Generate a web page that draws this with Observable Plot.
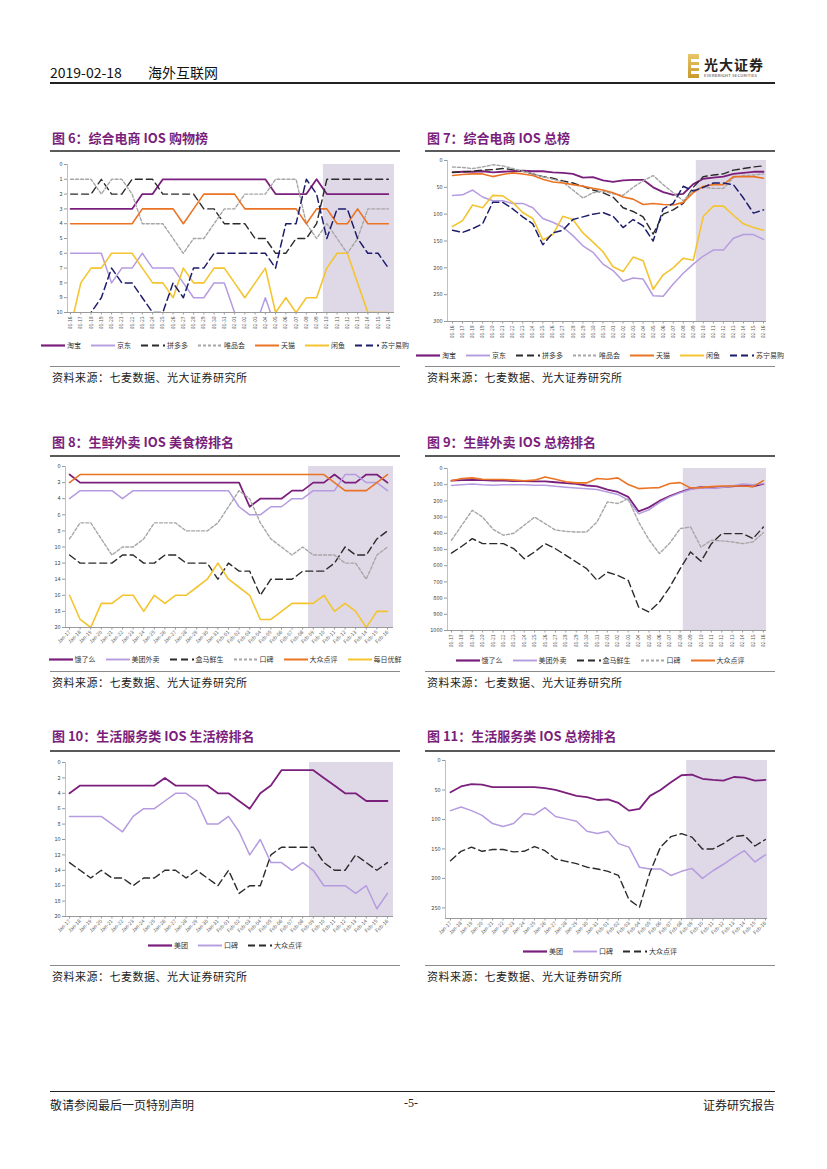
<!DOCTYPE html>
<html><head><meta charset="utf-8">
<!-- NOTE: legend series names and x-axis date labels are best guesses; they are illegible in the reference image. -->
<script src="https://cdn.jsdelivr.net/npm/d3@7"></script>
<script src="https://cdn.jsdelivr.net/npm/@observablehq/plot@0.6"></script>
<style>
body{margin:0;background:#fff;font-family:"Noto Sans CJK SC","Noto Sans",sans-serif;}
#page{position:relative;width:827px;height:1169px;overflow:hidden;background:#fff;}
.abs{position:absolute;white-space:nowrap;}
.title{color:#7A1E7C;font-weight:700;font-size:13px;line-height:16px;}
.src{font-size:11px;color:#222;line-height:14px;letter-spacing:0.5px;}
.rule{position:absolute;}
.legend{position:absolute;display:flex;justify-content:center;align-items:center;gap:10px;font-size:7px;color:#333;white-space:nowrap;}
.legend span{display:flex;align-items:center;gap:2px;white-space:nowrap;flex-shrink:0;}
svg{overflow:visible;}
</style></head>
<body><div id="page"></div>
<script>
// ---------- DATA ----------
// Series names and date labels below are estimates (unreadable in the source picture).
const labelsA = ["01-16","01-17","01-18","01-19","01-20","01-21","01-22","01-23","01-24","01-25","01-26","01-27","01-28","01-29","01-30","01-31","02-01","02-02","02-03","02-04","02-05","02-06","02-07","02-08","02-09","02-10","02-11","02-12","02-13","02-14","02-15","02-16"];
const labelsB = ["Jan-17","Jan-18","Jan-19","Jan-20","Jan-21","Jan-22","Jan-23","Jan-24","Jan-25","Jan-26","Jan-27","Jan-28","Jan-29","Jan-30","Jan-31","Feb-01","Feb-02","Feb-03","Feb-04","Feb-05","Feb-06","Feb-07","Feb-08","Feb-09","Feb-10","Feb-11","Feb-12","Feb-13","Feb-14","Feb-15","Feb-16"];
const labelsC = ["01-17","01-18","01-19","01-20","01-21","01-22","01-23","01-24","01-25","01-26","01-27","01-28","01-29","01-30","01-31","02-01","02-02","02-03","02-04","02-05","02-06","02-07","02-08","02-09","02-10","02-11","02-12","02-13","02-14","02-15","02-16"];

// Fig 6 shopping rank
const names6 = ["淘宝","京东","拼多多","唯品会","天猫","闲鱼","苏宁易购"];
const f6_taobao = [3,3,3,3,3,3,3,2,2,1,1,1,1,1,1,1,1,1,1,1,2,2,2,2,1,2,2,2,2,2,2,2];
const f6_jd     = [6,6,6,6,8,7,7,6,7,7,7,8,9,9,8,8,10,11,11,9,11,11,11,11,11,11,11,11,11,11,11,11];
const f6_pdd    = [2,2,2,1,2,2,1,1,1,2,2,2,2,3,3,4,4,4,5,5,6,6,5,5,4,1,1,1,1,1,1,1];
const f6_vip    = [1,1,1,2,1,1,2,4,4,4,5,6,5,5,4,3,3,2,2,2,1,1,1,4,5,4,5,6,5,3,3,3];
const f6_tmall  = [4,4,4,4,4,4,4,3,3,3,3,4,3,2,2,2,2,3,3,3,3,3,3,4,3,3,4,4,3,4,4,4];
const f6_xianyu = [11,8,7,7,6,6,6,7,8,8,9,7,8,8,7,7,8,9,8,7,10,9,10,9,9,7,6,6,8,10,10,10];
const f6_suning = [11,11,10,9,7,8,8,9,10,10,8,9,7,7,6,6,6,6,6,6,7,4,4,1,2,5,3,3,5,6,6,7];
const shade6 = 24.66;

// Fig 7 overall rank
const f7_taobao = [22,21,21,20,22,21,20,19,20,20,22,23,25,32,31,37,40,37,36,36,50,59,64,62,44,34,32,30,25,23,21,21];
const f7_jd     = [65,64,55,68,75,75,80,80,88,108,115,124,140,159,171,193,205,225,219,221,252,253,230,210,193,178,167,167,145,138,138,147];
const f7_pdd    = [22,21,20,18,17,15,17,20,25,30,33,38,42,48,55,60,68,88,95,105,137,100,92,80,50,30,27,25,18,15,12,10];
const f7_vip    = [12,13,15,12,8,10,15,20,25,30,35,40,55,70,60,57,62,65,50,38,28,45,60,75,55,50,52,52,32,28,27,25];
const f7_tmall  = [28,26,25,25,30,26,23,25,28,35,40,42,45,48,52,55,60,68,72,82,80,82,83,78,60,48,45,45,30,30,30,33];
const f7_xianyu = [123,112,83,88,65,66,78,97,108,148,138,104,110,135,152,170,198,207,180,187,240,213,200,182,186,104,85,85,102,118,125,130];
const f7_suning = [130,134,127,118,78,78,90,105,118,157,135,130,110,105,100,97,104,125,110,122,150,90,80,48,57,50,42,42,45,70,98,92];
const shade7 = 24.3;

// Fig 8 food & drink rank
const names8 = ["饿了么","美团外卖","盒马鲜生","口碑","大众点评","每日优鲜"];
const f8_ele   = [1,2,2,2,2,2,2,2,2,2,2,2,2,2,2,2,2,5,4,4,4,3,3,2,2,1,2,2,1,1,2];
const f8_mt    = [4,3,3,3,3,4,3,3,3,3,3,3,3,3,3,3,5,6,6,5,5,4,4,3,3,3,1,1,2,2,3];
const f8_hema  = [11,12,12,12,12,11,11,12,12,11,11,12,12,12,14,12,13,13,16,14,14,14,13,13,13,12,10,11,11,9,8];
const f8_kb    = [9,7,7,9,11,10,10,9,7,7,7,8,8,8,7,5,3,4,7,9,10,11,10,11,11,11,12,12,14,11,10];
const f8_dp    = [2,1,1,1,1,1,1,1,1,1,1,1,1,1,1,1,1,1,1,1,1,1,1,1,1,2,3,3,3,2,1];
const f8_mryx  = [16,19,20,17,17,16,16,18,16,17,16,16,15,14,12,14,15,16,19,19,18,17,17,17,16,18,17,18,20,18,18];
const shade8 = 22.55;

// Fig 9 overall rank
const names9 = ["饿了么","美团外卖","盒马鲜生","口碑","大众点评"];
const f9_ele  = [75,72,70,72,75,75,78,78,80,80,85,90,95,105,110,130,145,175,265,240,200,170,145,125,115,120,115,110,105,110,95];
const f9_mt   = [105,100,95,100,103,100,100,100,103,103,110,115,120,125,130,145,160,195,280,255,210,175,150,130,120,122,118,108,95,100,92];
const f9_hema = [522,480,433,464,464,464,495,557,515,464,495,536,577,618,690,640,660,690,855,885,825,732,618,515,573,464,402,402,402,433,361];
const f9_kb   = [443,350,258,300,375,412,400,350,300,340,380,388,392,392,330,206,216,186,330,440,525,460,371,361,485,443,447,453,464,453,396];
const f9_dp   = [76,62,58,66,68,68,72,76,72,52,66,82,89,89,62,66,58,99,124,120,118,93,87,120,118,112,108,108,108,112,75];
const shade9 = 22.3;

// Fig 10 lifestyle rank
const names10 = ["美团","口碑","大众点评"];
const f10_a = [4,3,3,3,3,3,3,3,3,2,3,3,3,3,4,4,5,6,4,3,1,1,1,1,2,3,4,4,5,5,5];
const f10_b = [7,7,7,7,8,9,7,6,6,5,4,4,5,8,8,7,9,12,10,13,13,14,13,14,16,16,16,17,16,19,17];
const f10_c = [13,14,15,14,15,15,16,15,15,14,14,15,14,15,16,14,17,16,16,12,11,11,11,11,13,14,14,12,13,14,13];
const shade10 = 22.64;

// Fig 11 overall rank
const f11_a = [54,44,40,41,45,45,45,45,45,47,50,55,60,62,67,66,72,85,82,60,50,37,25,24,31,33,34,28,29,34,33];
const f11_b = [85,79,85,93,107,112,107,90,92,80,95,99,103,120,124,120,141,147,181,184,184,195,188,183,200,187,176,164,153,172,160];
const f11_c = [170,154,147,154,151,151,155,154,146,153,167,171,175,181,184,188,195,236,249,190,147,129,124,130,150,150,141,129,127,145,134];
const shade11 = 22.5;

// ---------- STYLES ----------
const SHADE = "#DFD9E7";
const ST = {
  dpurple: {stroke:"#7B1F7D", w:1.8, dash:null},
  lpurple: {stroke:"#B59BDF", w:1.5, dash:null},
  black:   {stroke:"#2B2B2B", w:1.4, dash:"7,4"},
  gray:    {stroke:"#A6A6A6", w:1.4, dash:"3,2"},
  orange:  {stroke:"#EB7324", w:1.6, dash:null},
  yellow:  {stroke:"#F4C430", w:1.6, dash:null},
  navy:    {stroke:"#1D1D6B", w:1.5, dash:"7,4"}
};

const page = document.getElementById("page");
function add(html){ const d=document.createElement("div"); d.innerHTML=html; const el=d.firstElementChild; page.appendChild(el); return el; }

function drawChart(cfg){
  const n = cfg.labels.length;
  const marks = [
    Plot.rect([cfg.shade], {x1: d=>d, x2: ()=>cfg.xDom[1], y1: ()=>cfg.yDom[0], y2: ()=>cfg.yDom[1], fill: SHADE}),
    Plot.ruleX([cfg.xDom[0]], {stroke:"#B0B0B0", strokeWidth:0.8}),
    Plot.ruleY([cfg.yDom[1]], {stroke:"#808080", strokeWidth:0.8}),
    Plot.axisY(cfg.yTicks, {anchor:"left", label:null, tickFormat:d=>String(d), tickSize:3, tickPadding:2, fontSize:5.5, stroke:"#999", fill:"#444"}),
    Plot.axisX(d3.range(n), {anchor:"bottom", label:null, tickFormat: i=>cfg.labels[i], tickRotate: cfg.rot, tickSize:2.5, tickPadding:1.5, fontSize:5, stroke:"#999", fill:"#555"})
  ];
  cfg.series.forEach(s=>{
    const rows = s.values.map((v,i)=>({i, v}));
    marks.push(Plot.line(rows, {x:"i", y:"v", stroke:s.st.stroke, strokeWidth:s.st.w, strokeDasharray:s.st.dash, clip:true, curve:"linear"}));
  });
  const svg = Plot.plot({
    width: cfg.width, height: cfg.height,
    marginLeft: cfg.mL, marginRight: cfg.mR, marginTop: cfg.mT, marginBottom: cfg.mB,
    x: {type:"linear", domain: cfg.xDom, axis:null},
    y: {type:"linear", domain: cfg.yDom, reverse:true, axis:null},
    style: {fontFamily:"Noto Sans CJK SC, sans-serif", background:"transparent", overflow:"visible"},
    marks
  });
  svg.style.position="absolute"; svg.style.left=cfg.left+"px"; svg.style.top=cfg.top+"px";
  page.appendChild(svg);
  // legend
  const lg = document.createElement("div");
  lg.className="legend";
  lg.style.left=cfg.legend[0]+"px"; lg.style.top=cfg.legend[1]+"px"; lg.style.width=cfg.legend[2]+"px";
  cfg.series.forEach(s=>{
    const sp=document.createElement("span");
    sp.innerHTML=`<svg width="24" height="5"><line x1="0" y1="2.5" x2="24" y2="2.5" stroke="${s.st.stroke}" stroke-width="${s.st.w+0.4}" ${s.st.dash?`stroke-dasharray="${s.st.dash}"`:""}/></svg>${s.name}`;
    lg.appendChild(sp);
  });
  page.appendChild(lg);
}

// ---------- PAGE FRAME ----------
add(`<div class="abs" style="left:50px;top:62px;font-size:14px;color:#111;">2019-02-18</div>`);
add(`<div class="abs" style="left:148px;top:62px;font-size:14px;color:#111;">海外互联网</div>`);
add(`<div class="abs" style="left:688px;top:54px;width:11px;height:24px;background:linear-gradient(180deg,#E8C66A,#C99A2E);"></div>`);
add(`<div class="abs" style="left:691px;top:59px;width:8px;height:3px;background:#fff;"></div>`);
add(`<div class="abs" style="left:691px;top:65px;width:8px;height:3px;background:#fff;"></div>`);
add(`<div class="abs" style="left:691px;top:71px;width:8px;height:3px;background:#fff;"></div>`);
add(`<div class="abs" style="left:704px;top:54px;font-size:14px;font-weight:700;color:#222;letter-spacing:1px;">光大证券</div>`);
add(`<div class="abs" style="left:704px;top:72px;font-size:4px;color:#333;letter-spacing:0.3px;">EVERBRIGHT SECURITIES</div>`);
add(`<div class="rule" style="left:50px;top:82px;width:725px;height:1.5px;background:#222;"></div>`);

const rows = [
  {tY:130, rY:150, sY:366},
  {tY:434, rY:455, sY:671},
  {tY:728, rY:750, sY:965}
];
const titles = [
  ["图 6：综合电商 IOS 购物榜","图 7：综合电商 IOS 总榜"],
  ["图 8：生鲜外卖 IOS 美食榜排名","图 9：生鲜外卖 IOS 总榜排名"],
  ["图 10：生活服务类 IOS 生活榜排名","图 11：生活服务类 IOS 总榜排名"]
];
rows.forEach((r,k)=>{
  [[52,50],[427,425]].forEach(([tx,rx],j)=>{
    add(`<div class="abs title" style="left:${tx}px;top:${r.tY}px;">${titles[k][j]}</div>`);
    add(`<div class="rule" style="left:${rx}px;top:${r.rY}px;width:350px;height:2px;background:#5A5A5A;"></div>`);
    add(`<div class="rule" style="left:${rx}px;top:${r.sY}px;width:350px;height:1px;background:#8A8A8A;"></div>`);
    add(`<div class="abs src" style="left:${rx+2}px;top:${r.sY+4}px;">资料来源：七麦数据、光大证券研究所</div>`);
  });
});

add(`<div class="rule" style="left:50px;top:1091px;width:725px;height:1px;background:#222;"></div>`);
add(`<div class="abs" style="left:50px;top:1096px;font-size:12px;color:#222;">敬请参阅最后一页特别声明</div>`);
add(`<div class="abs" style="left:404px;top:1096px;font-size:12px;color:#222;font-family:'Liberation Serif',serif;">-5-</div>`);
add(`<div class="abs" style="left:703px;top:1096px;font-size:12px;color:#222;">证券研究报告</div>`);

// ---------- CHARTS ----------
drawChart({left:40, top:152, width:360, height:186, mL:27, mR:6, mT:12, mB:26,
  xDom:[-0.3,31.6], yDom:[0,10], yTicks:d3.range(0,11,1), labels:labelsA, rot:-90, shade:shade6,
  legend:[50,340,350],
  series:[
    {name:names6[0], values:f6_taobao, st:ST.dpurple},
    {name:names6[1], values:f6_jd, st:ST.lpurple},
    {name:names6[2], values:f6_pdd, st:ST.black},
    {name:names6[3], values:f6_vip, st:ST.gray},
    {name:names6[4], values:f6_tmall, st:ST.orange},
    {name:names6[5], values:f6_xianyu, st:ST.yellow},
    {name:names6[6], values:f6_suning, st:ST.navy}
  ]});

drawChart({left:415, top:152, width:360, height:195, mL:32, mR:9, mT:8, mB:26,
  xDom:[-0.5,31.3], yDom:[0,300], yTicks:d3.range(0,301,50), labels:labelsA, rot:-90, shade:shade7,
  legend:[425,350,350],
  series:[
    {name:names6[0], values:f7_taobao, st:ST.dpurple},
    {name:names6[1], values:f7_jd, st:ST.lpurple},
    {name:names6[2], values:f7_pdd, st:ST.black},
    {name:names6[3], values:f7_vip, st:ST.gray},
    {name:names6[4], values:f7_tmall, st:ST.orange},
    {name:names6[5], values:f7_xianyu, st:ST.yellow},
    {name:names6[6], values:f7_suning, st:ST.navy}
  ]});

drawChart({left:40, top:455, width:360, height:197, mL:25, mR:7, mT:11, mB:25,
  xDom:[-0.38,30.57], yDom:[0,20], yTicks:d3.range(0,21,2), labels:labelsB, rot:-45, shade:shade8,
  legend:[50,654,350],
  series:[
    {name:names8[0], values:f8_ele, st:ST.dpurple},
    {name:names8[1], values:f8_mt, st:ST.lpurple},
    {name:names8[2], values:f8_hema, st:ST.black},
    {name:names8[3], values:f8_kb, st:ST.gray},
    {name:names8[4], values:f8_dp, st:ST.orange},
    {name:names8[5], values:f8_mryx, st:ST.yellow}
  ]});

drawChart({left:415, top:455, width:360, height:200, mL:32, mR:9, mT:13, mB:25,
  xDom:[-0.38,30.3], yDom:[0,1000], yTicks:d3.range(0,1001,100), labels:labelsC, rot:-90, shade:shade9,
  legend:[425,655,350],
  series:[
    {name:names9[0], values:f9_ele, st:ST.dpurple},
    {name:names9[1], values:f9_mt, st:ST.lpurple},
    {name:names9[2], values:f9_hema, st:ST.black},
    {name:names9[3], values:f9_kb, st:ST.gray},
    {name:names9[4], values:f9_dp, st:ST.orange}
  ]});

drawChart({left:40, top:750, width:360, height:190, mL:25, mR:7, mT:12, mB:24,
  xDom:[-0.38,30.57], yDom:[0,20], yTicks:d3.range(0,21,2), labels:labelsB, rot:-45, shade:shade10,
  legend:[50,940,350],
  series:[
    {name:names10[0], values:f10_a, st:ST.dpurple},
    {name:names10[1], values:f10_b, st:ST.lpurple},
    {name:names10[2], values:f10_c, st:ST.black}
  ]});

drawChart({left:415, top:750, width:360, height:192, mL:30, mR:8, mT:10, mB:24,
  xDom:[-0.48,30.2], yDom:[0,268], yTicks:d3.range(0,251,50), labels:labelsB, rot:-45, shade:shade11,
  legend:[425,946,350],
  series:[
    {name:names10[0], values:f11_a, st:ST.dpurple},
    {name:names10[1], values:f11_b, st:ST.lpurple},
    {name:names10[2], values:f11_c, st:ST.black}
  ]});
</script>
</body></html>
